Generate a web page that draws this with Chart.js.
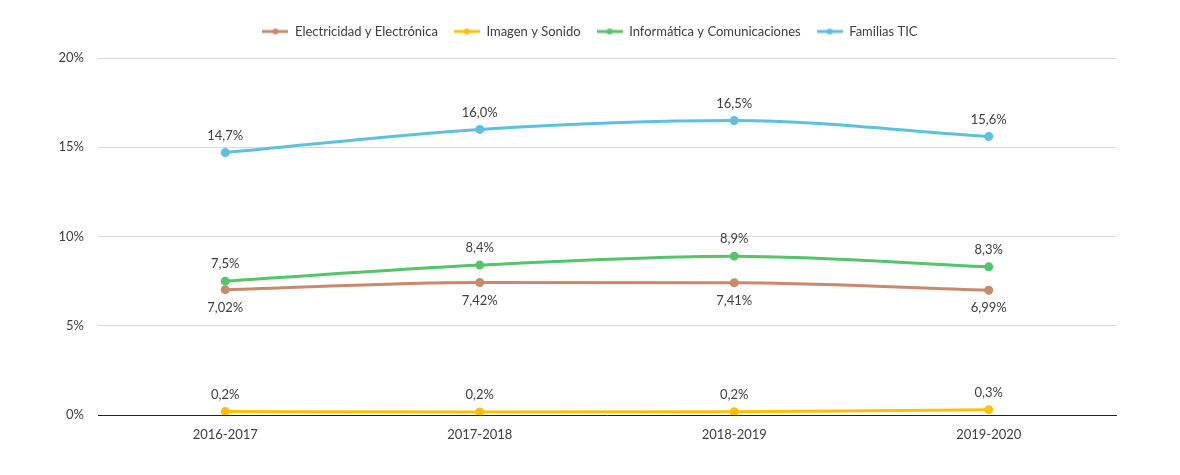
<!DOCTYPE html>
<html><head><meta charset="utf-8">
<script src="https://cdn.jsdelivr.net/npm/chart.js@4/dist/chart.umd.min.js"></script>
<style>html,body{margin:0;padding:0;background:#fff}#wrap{width:1180px;height:475px}</style>
</head><body><div id="wrap"><canvas id="c" width="1180" height="475"></canvas></div>
<script>
const categories = ['2016-2017','2017-2018','2018-2019','2019-2020'];
const electricidad = [7.02, 7.42, 7.41, 6.99];
const imagen = [0.2, 0.17, 0.18, 0.3];
const informatica = [7.5, 8.4, 8.9, 8.3];
const familias = [14.7, 16.0, 16.5, 15.6];
const seriesNames = ['Electricidad y Electrónica','Imagen y Sonido','Informática y Comunicaciones','Familias TIC'];
const yTicks = [0, 5, 10, 15, 20];

const colors = ['#C98A6B','#FFC000','#55C46B','#5BC1DE'];
const decimals = [2,1,1,1];
const below = [true,false,false,false];
const FONT = 'Lato, "Open Sans", sans-serif';

function legendIcon(color){
  const cv = document.createElement('canvas');
  cv.width = 26; cv.height = 10;
  const x = cv.getContext('2d');
  x.strokeStyle = color; x.lineWidth = 3;
  x.beginPath(); x.moveTo(0,5); x.lineTo(26,5); x.stroke();
  x.fillStyle = color; x.beginPath(); x.arc(13,5,3,0,Math.PI*2); x.fill();
  return cv;
}

const data = [electricidad, imagen, informatica, familias];
const datasets = data.map((d,i)=>({
  label: seriesNames[i], data: d, borderColor: colors[i], backgroundColor: colors[i],
  borderWidth: 3, pointRadius: 3, pointHoverRadius: 3, tension: 0.4,
  cubicInterpolationMode: 'monotone', fill: false,
  pointStyle: 'circle'
}));

const labelPlugin = {
  id: 'dlabels',
  afterDatasetsDraw(chart){
    const ctx = chart.ctx;
    ctx.save();
    ctx.font = '13px ' + FONT;
    ctx.fillStyle = '#404040';
    ctx.textAlign = 'center'; ctx.textBaseline = 'middle';
    chart.data.datasets.forEach((ds,i)=>{
      chart.getDatasetMeta(i).data.forEach((pt,j)=>{
        const txt = ds.data[j].toFixed(decimals[i]).replace('.',',') + '%';
        ctx.fillText(txt, pt.x, pt.y + (below[i] ? 18 : -17));
      });
    });
    ctx.restore();
  }
};
const legendFix = {
  id: 'legendFix',
  beforeInit(chart){
    const fit = chart.legend.fit;
    chart.legend.fit = function(){ fit.call(this); this.height = 49; };
  },
  afterLayout(chart){
    const lg = chart.legend;
    lg.left = 0; lg.right = chart.width; lg.width = chart.width;
  }
};

new Chart(document.getElementById('c'), {
  type: 'line',
  data: { labels: categories, datasets },
  plugins: [labelPlugin, legendFix],
  options: {
    responsive: false, animation: false, devicePixelRatio: 1,
    layout: { padding: { left: 0, right: 64, top: 9, bottom: 0 } },
    plugins: {
      tooltip: { enabled: false },
      legend: {
        position: 'top', align: 'center',
        labels: {
          usePointStyle: true, pointStyleWidth: 26, boxHeight: 10, padding: 16,
          color: '#404040', font: { family: FONT, size: 13 },
          generateLabels(chart){
            return chart.data.datasets.map((ds,i)=>({
              text: ds.label, fillStyle: colors[i], strokeStyle: colors[i],
              pointStyle: legendIcon(colors[i]), datasetIndex: i, lineWidth: 0, fontColor: '#404040'
            }));
          }
        }
      }
    },
    scales: {
      x: {
        offset: true,
        grid: { display: false, drawTicks: false },
        border: { display: true, color: '#222', width: 1 },
        ticks: { color: '#404040', font: { family: FONT, size: 13 }, padding: 12 },
        afterFit(s){ s.height = 60; }
      },
      y: {
        min: 0, max: 20,
        afterBuildTicks(s){ s.ticks = yTicks.map(v=>({value:v})); },
        grid: { color: '#D9D9D9', drawTicks: false, lineWidth: 1 },
        border: { display: false },
        ticks: { color: '#404040', font: { family: FONT, size: 13 }, padding: 14,
          callback: v => v + '%' },
        afterFit(s){ s.width = 98; }
      }
    }
  }
});
</script></body></html>
